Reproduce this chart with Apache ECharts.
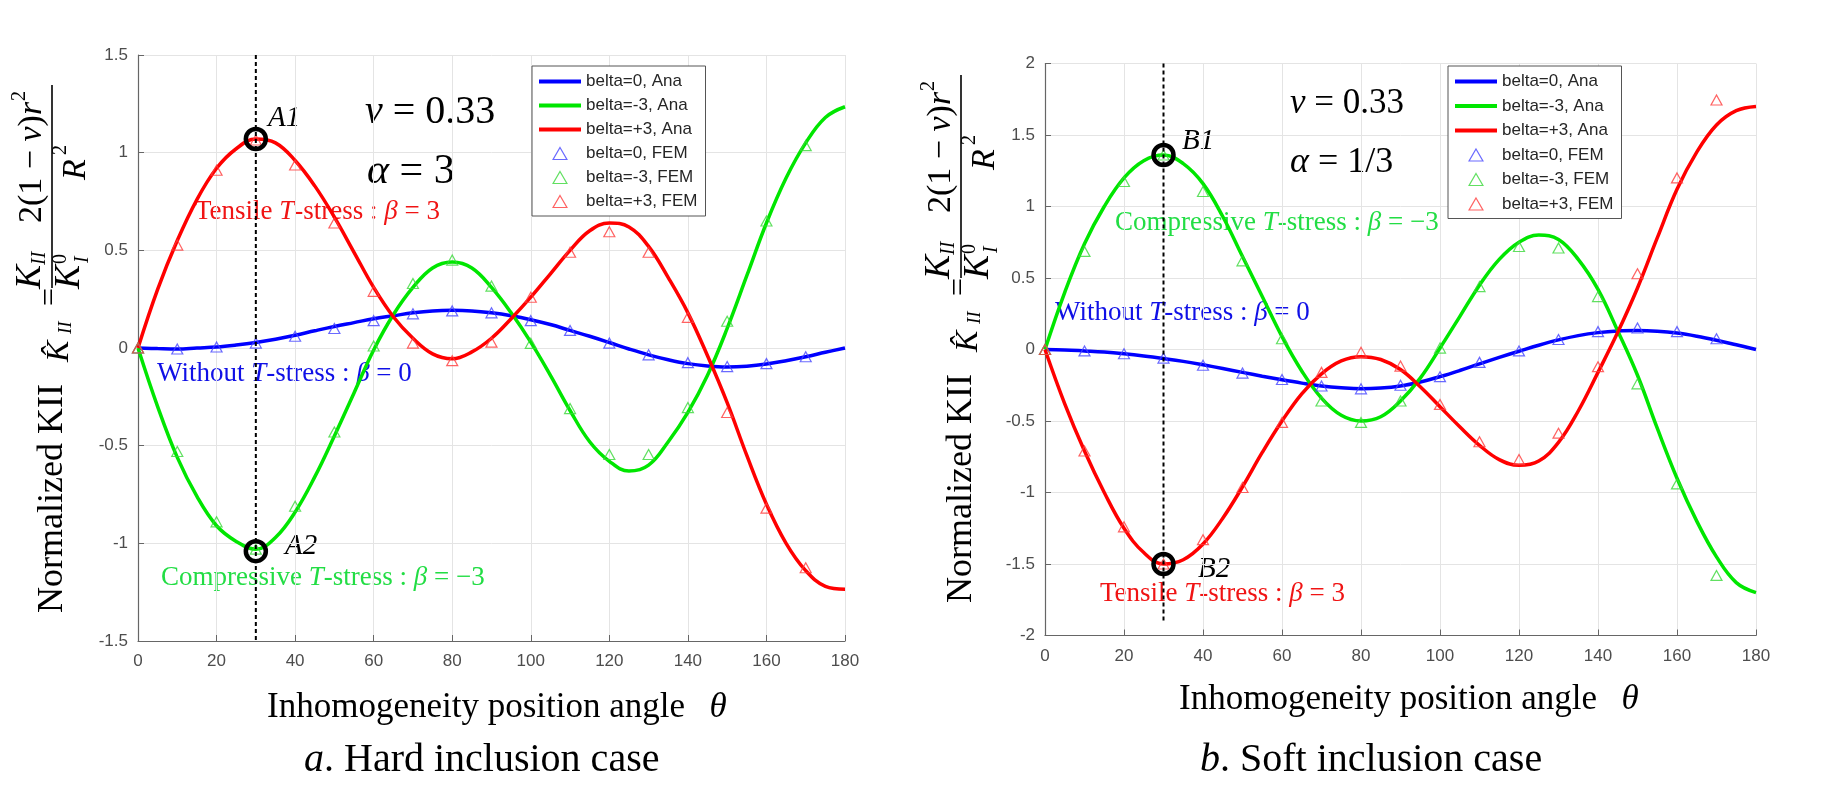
<!DOCTYPE html>
<html>
<head>
    <meta charset="utf-8">
    <title>Normalized KII - hard and soft inclusion</title>
    <script src="https://cdn.jsdelivr.net/npm/echarts@6/dist/echarts.min.js"></script>
    <style>
        html, body { margin: 0; padding: 0; background: #fff; }
        #chart { width: 1845px; height: 801px; }
    </style>
</head>
<body>
<div id="chart"></div>
<script type="text/javascript">
    // angle samples (deg)
    var thetaAna = [0, 5, 10, 15, 20, 25, 30, 35, 40, 45, 50, 55, 60, 65, 70, 75, 80, 85, 90,
        95, 100, 105, 110, 115, 120, 125, 130, 135, 140, 145, 150, 155, 160, 165, 170, 175, 180];
    var thetaFem = [0, 10, 20, 30, 40, 50, 60, 70, 80, 90, 100, 110, 120, 130, 140, 150, 160, 170];

    // a. hard inclusion (alpha = 3)
    var hardAna0 = [0, -0.003, -0.005, 0, 0.005, 0.015, 0.028, 0.045, 0.065, 0.088, 0.11, 0.13, 0.15, 0.165, 0.18, 0.19, 0.193, 0.19, 0.18,
        0.165, 0.145, 0.12, 0.09, 0.06, 0.028, -0.005, -0.035, -0.06, -0.08, -0.092, -0.097, -0.093, -0.082, -0.065, -0.045, -0.022, 0];
    var hardAnaM3 = [0, -0.3, -0.56, -0.76, -0.91, -0.99, -1.03, -0.97, -0.84, -0.66, -0.45, -0.23, -0.01, 0.17, 0.31, 0.41, 0.44, 0.41, 0.31,
        0.18, 0.03, -0.14, -0.32, -0.48, -0.58, -0.63, -0.6, -0.48, -0.33, -0.14, 0.1, 0.37, 0.64, 0.87, 1.05, 1.18, 1.235];
    var hardAnaP3 = [0, 0.3, 0.55, 0.76, 0.92, 1.02, 1.07, 1.05, 0.96, 0.83, 0.67, 0.49, 0.31, 0.16, 0.05, -0.03, -0.055, -0.02, 0.05,
        0.15, 0.26, 0.38, 0.5, 0.6, 0.64, 0.62, 0.52, 0.36, 0.18, -0.04, -0.28, -0.55, -0.8, -1.0, -1.14, -1.22, -1.235];
    var hardFem0 = [0, -0.005, 0.005, 0.025, 0.06, 0.1, 0.14, 0.175, 0.19, 0.18, 0.14, 0.09, 0.025, -0.035, -0.075, -0.095, -0.08, -0.045];
    var hardFemM3 = [0, -0.53, -0.89, -1.03, -0.81, -0.43, 0.01, 0.33, 0.45, 0.317, 0.024, -0.31, -0.545, -0.545, -0.305, 0.137, 0.65, 1.036];
    var hardFemP3 = [0, 0.527, 0.91, 1.065, 0.937, 0.64, 0.29, 0.025, -0.065, 0.03, 0.26, 0.49, 0.595, 0.49, 0.157, -0.33, -0.82, -1.125];

    // b. soft inclusion (alpha = 1/3)
    var softAna0 = [0, -0.003, -0.01, -0.018, -0.03, -0.045, -0.063, -0.083, -0.107, -0.133, -0.16, -0.187, -0.212, -0.235, -0.255, -0.268, -0.275, -0.27, -0.255,
        -0.227, -0.19, -0.147, -0.1, -0.055, -0.012, 0.03, 0.067, 0.097, 0.118, 0.13, 0.133, 0.128, 0.115, 0.093, 0.065, 0.033, 0];
    var softAnaM3 = [0, 0.4, 0.74, 1.0, 1.2, 1.32, 1.36, 1.3, 1.16, 0.93, 0.65, 0.37, 0.09, -0.15, -0.34, -0.46, -0.5, -0.47, -0.36,
        -0.2, 0.01, 0.23, 0.45, 0.63, 0.75, 0.8, 0.77, 0.63, 0.42, 0.13, -0.18, -0.55, -0.9, -1.2, -1.45, -1.63, -1.7];
    var softAnaP3 = [0, -0.38, -0.71, -1.0, -1.25, -1.42, -1.5, -1.47, -1.36, -1.18, -0.96, -0.72, -0.5, -0.31, -0.17, -0.08, -0.05, -0.07, -0.14,
        -0.26, -0.4, -0.54, -0.67, -0.77, -0.81, -0.78, -0.65, -0.43, -0.16, 0.12, 0.43, 0.78, 1.12, 1.38, 1.57, 1.67, 1.7];
    var softFem0 = [0, -0.01, -0.03, -0.06, -0.11, -0.165, -0.21, -0.255, -0.275, -0.25, -0.19, -0.09, -0.01, 0.07, 0.125, 0.15, 0.125, 0.075];
    var softFemM3 = [0, 0.686, 1.175, 1.36, 1.105, 0.62, 0.075, -0.36, -0.51, -0.36, 0.01, 0.44, 0.72, 0.71, 0.37, -0.24, -0.94, -1.58];
    var softFemP3 = [0, -0.71, -1.24, -1.5, -1.33, -0.965, -0.51, -0.16, -0.02, -0.116, -0.384, -0.645, -0.77, -0.585, -0.12, 0.53, 1.2, 1.745];

    // marked points A1/A2, B1/B2 and the theta = 30 guide
    var markHard = [[30, 1.07], [30, -1.04]];
    var markSoft = [[30, 1.36], [30, -1.5]];
    var guideHard = [[30, 1.5], [30, -1.5]];
    var guideSoft = [[30, 2], [30, -1.9]];

    var seriesNames = ['belta=0, Ana', 'belta=-3, Ana', 'belta=+3, Ana', 'belta=0, FEM', 'belta=-3, FEM', 'belta=+3, FEM'];
    var lineColors = ['#0000ff', '#00e600', '#ff0000'];
    var femColors = ['#4545ff', '#3ad83a', '#ff3b3b'];

    var SERIF = '"Liberation Serif", "Times New Roman", serif';
    var SANS = '"Liberation Sans", Arial, sans-serif';
    var TRIANGLE = 'path://M6,0L12,10.4L0,10.4Z';

    function pairs(xs, ys) {
        return xs.map(function (x, i) { return [x, ys[i]]; });
    }

    function anaSeries(k, ys, idx) {
        return {
            name: seriesNames[k], type: 'line', xAxisIndex: idx, yAxisIndex: idx,
            data: pairs(thetaAna, ys), smooth: 0.4, symbol: 'none', showSymbol: false,
            lineStyle: {color: lineColors[k], width: 3.5}, itemStyle: {color: lineColors[k]},
            z: 3, silent: true
        };
    }

    function femSeries(k, ys, idx) {
        return {
            name: seriesNames[k + 3], type: 'scatter', xAxisIndex: idx, yAxisIndex: idx,
            data: pairs(thetaFem, ys), symbol: 'triangle', symbolSize: [11, 10],
            itemStyle: {color: 'rgba(0,0,0,0)', borderColor: femColors[k], borderWidth: 1.2},
            z: 4, silent: true
        };
    }

    function guideSeries(pts, idx) {
        return {
            type: 'line', xAxisIndex: idx, yAxisIndex: idx, data: pts, symbol: 'none',
            lineStyle: {color: '#000', width: 2, type: [4, 3]}, z: 5, silent: true
        };
    }

    function markSeries(pts, idx) {
        return {
            type: 'scatter', xAxisIndex: idx, yAxisIndex: idx, data: pts, symbol: 'circle', symbolSize: 20,
            itemStyle: {color: 'rgba(0,0,0,0)', borderColor: '#000', borderWidth: 4.5, opacity: 1}, z: 6, silent: true
        };
    }

    function legendItems() {
        return seriesNames.map(function (n, i) {
            if (i < 3) return {name: n, itemStyle: {opacity: 0}};
            return {
                name: n, icon: TRIANGLE,
                itemStyle: {color: 'rgba(0,0,0,0)', borderColor: femColors[i - 3], borderWidth: 1.2}
            };
        });
    }

    function legendAt(left, top, gap) {
        return {
            data: legendItems(), left: left, top: top, orient: 'vertical', selectedMode: false,
            itemWidth: 42, itemHeight: 12, itemGap: gap, padding: [7, 8, 6, 5], symbolKeepAspect: true,
            lineStyle: {width: 4},
            backgroundColor: '#fff', borderColor: '#555', borderWidth: 1, z: 10,
            textStyle: {fontFamily: SANS, fontSize: 17, color: '#262626'}
        };
    }

    function xAxisFor(idx) {
        return {
            type: 'value', gridIndex: idx, min: 0, max: 180, interval: 20,
            axisLine: {show: true, onZero: false, lineStyle: {color: '#666', width: 1.2}},
            axisTick: {show: true, inside: true, length: 6, lineStyle: {color: '#666'}},
            splitLine: {show: true, lineStyle: {color: '#e4e4e4', width: 1}},
            axisLabel: {color: '#4d4d4d', fontFamily: SANS, fontSize: 17, margin: 12}
        };
    }

    function yAxisFor(idx, lo, hi) {
        return {
            type: 'value', gridIndex: idx, min: lo, max: hi, interval: 0.5,
            axisLine: {show: true, onZero: false, lineStyle: {color: '#666', width: 1.2}},
            axisTick: {show: true, inside: true, length: 6, lineStyle: {color: '#666'}},
            splitLine: {show: true, lineStyle: {color: '#e4e4e4', width: 1}},
            axisLabel: {color: '#4d4d4d', fontFamily: SANS, fontSize: 17, margin: 10}
        };
    }

    var richSerif = function (size) {
        return {
            n: {fontFamily: SERIF, fontSize: size},
            i: {fontFamily: SERIF, fontSize: size, fontStyle: 'italic'}
        };
    };

    function note(x, y, text, size, color, align) {
        return {
            type: 'text', x: x, y: y, silent: true,
            style: {
                text: text, rich: richSerif(size), fill: color,
                font: size + 'px ' + SERIF,
                align: align || 'left', textAlign: align || 'left',
                verticalAlign: 'middle', textVerticalAlign: 'middle'
            }
        };
    }

    function glyph(x, y, text, size, italic, align) {
        return {
            type: 'text', x: x, y: y, silent: true,
            style: {
                text: text, fill: '#000', font: (italic ? 'italic ' : '') + size + 'px ' + SERIF,
                align: align || 'left', textAlign: align || 'left',
                verticalAlign: 'middle', textVerticalAlign: 'middle'
            }
        };
    }

    // rotated y label: "Normalized KII   K^_II = K_II/K_I^0 * 2(1-v)r^2/R^2"
    function yLabel(px, py) {
        return {
            type: 'group', x: px, y: py, rotation: Math.PI / 2, silent: true,
            children: [
                glyph(0, 53, 'Normalized KII', 36, false),
                glyph(251, 59.5, 'K\u0302', 32, true),
                glyph(279, 66, 'II', 19, true),
                glyph(316, 51, '=', 32, false, 'center'),
                {type: 'line', shape: {x1: 325, y1: 52, x2: 528, y2: 52}, style: {stroke: '#000', lineWidth: 1.6}},
                glyph(324, 31, 'K', 36, true),
                glyph(348, 40, 'II', 20, true),
                glyph(324, 70, 'K', 36, true),
                glyph(349, 61, '0', 20, false),
                glyph(350, 83, 'I', 20, true),
                note(390, 32, '{n|2(1\u2005\u2212\u2005}{i|v}{n|)}{i|r}', 34, '#000'),
                glyph(512, 20, '2', 20, false),
                glyph(433, 76, 'R', 34, true),
                glyph(458, 61, '2', 20, false)
            ]
        };
    }

    var chart = echarts.init(document.getElementById('chart'));
    chart.setOption({
        animation: false,
        backgroundColor: '#fff',
        grid: [
            {left: 138, top: 55, width: 707, height: 586},
            {left: 1045, top: 63.5, width: 711, height: 572}
        ],
        xAxis: [xAxisFor(0), xAxisFor(1)],
        yAxis: [yAxisFor(0, -1.5, 1.5), yAxisFor(1, -2, 2)],
        legend: [legendAt(532, 66, 7), legendAt(1448, 66, 7.5)],
        series: [
            anaSeries(0, hardAna0, 0), anaSeries(1, hardAnaM3, 0), anaSeries(2, hardAnaP3, 0),
            femSeries(0, hardFem0, 0), femSeries(1, hardFemM3, 0), femSeries(2, hardFemP3, 0),
            guideSeries(guideHard, 0), markSeries(markHard, 0),
            anaSeries(0, softAna0, 1), anaSeries(1, softAnaM3, 1), anaSeries(2, softAnaP3, 1),
            femSeries(0, softFem0, 1), femSeries(1, softFemM3, 1), femSeries(2, softFemP3, 1),
            guideSeries(guideSoft, 1), markSeries(markSoft, 1)
        ],
        graphic: [
            yLabel(0, 613),
            yLabel(909, 603),
            // left panel notes
            note(268, 118, '{i|A1}', 29, '#000'),
            note(285, 546, '{i|A2}', 29, '#000'),
            note(365, 112, '{i|v}{n|\u2005=\u20050.33}', 40, '#000'),
            note(367, 172, '{i|α}{n|\u2005=\u20053}', 42, '#000'),
            note(195, 212, '{n|Tensile }{i|T}{n|-stress : }{i|β}{n| = 3}', 27, '#f01414'),
            note(157, 374, '{n|Without }{i|T}{n|-stress : }{i|β}{n| = 0}', 27, '#1010e6'),
            note(161, 578, '{n|Compressive }{i|T}{n|-stress : }{i|β}{n| = \u22123}', 27, '#22dd44'),
            // right panel notes
            note(1182, 141, '{i|B1}', 29, '#000'),
            note(1198, 569, '{i|B2}', 29, '#000'),
            note(1290, 104, '{i|v}{n|\u2005=\u20050.33}', 35, '#000'),
            note(1290, 163, '{i|α}{n|\u2005=\u20051/3}', 36, '#000'),
            note(1115, 223, '{n|Compressive }{i|T}{n|-stress : }{i|β}{n| = \u22123}', 27, '#22dd44'),
            note(1055, 313, '{n|Without }{i|T}{n|-stress : }{i|β}{n| = 0}', 27, '#1010e6'),
            note(1100, 594, '{n|Tensile }{i|T}{n|-stress : }{i|β}{n| = 3}', 27, '#f01414'),
            // x labels and captions
            note(267, 708, '{n|Inhomogeneity position angle\u2002\u2009}{i|θ}', 35, '#000'),
            note(1179, 700, '{n|Inhomogeneity position angle\u2002\u2009}{i|θ}', 35, '#000'),
            note(304, 760, '{i|a}{n|. Hard inclusion case}', 40, '#000'),
            note(1200, 760, '{i|b}{n|. Soft inclusion case}', 40, '#000')
        ]
    });
</script>
</body>
</html>
